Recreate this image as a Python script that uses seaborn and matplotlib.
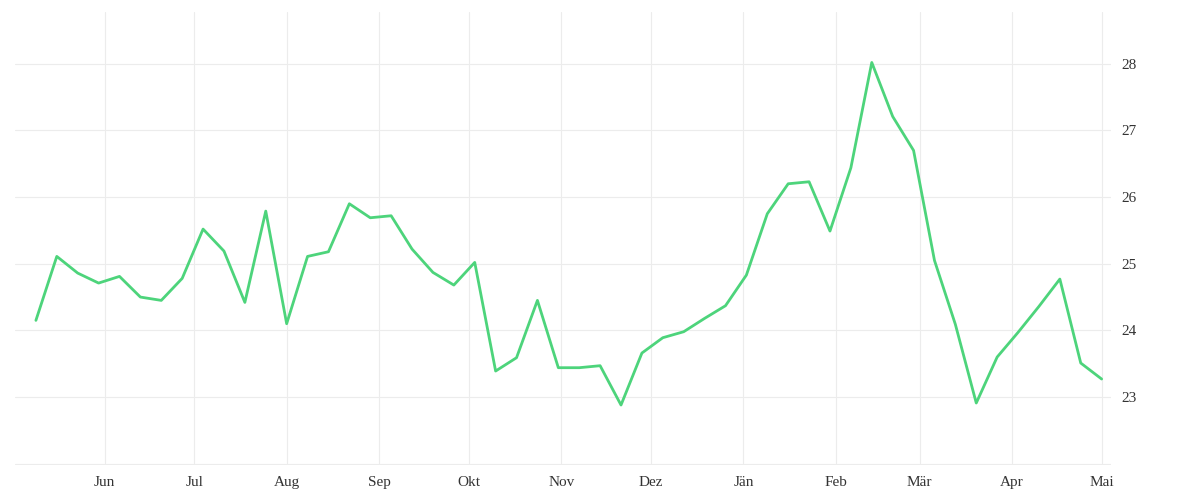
import matplotlib
matplotlib.use("Agg")
import matplotlib.pyplot as plt
import matplotlib.dates as mdates
import seaborn as sns
import pandas as pd

values = [24.15, 25.11, 24.86, 24.71, 24.81, 24.50, 24.45, 24.78, 25.52, 25.19,
          24.42, 25.79, 24.10, 25.11, 25.18, 25.90, 25.69, 25.72, 25.22, 24.87,
          24.68, 25.02, 23.39, 23.59, 24.45, 23.44, 23.44, 23.47, 22.88, 23.66,
          23.89, 23.98, 24.18, 24.37, 24.83, 25.75, 26.20, 26.23, 25.49, 26.44,
          28.02, 27.21, 26.70, 25.05, 24.09, 22.91, 23.60, 23.97, 24.36, 24.77,
          23.51, 23.27]
dates = pd.date_range("2021-05-09", periods=len(values), freq="7D")
month_labels = ["Jun", "Jul", "Aug", "Sep", "Okt", "Nov", "Dez", "Jän", "Feb", "Mär", "Apr", "Mai"]
month_ticks = pd.date_range("2021-06-01", periods=12, freq="MS")
y_ticks = [23, 24, 25, 26, 27, 28]

sns.set_style("white")
plt.rcParams['font.family'] = ['Liberation Serif', 'DejaVu Serif']
fig = plt.figure(figsize=(12, 5), dpi=100)
ax = fig.add_axes([0.0125, 0.07, 0.913, 0.905])
df = pd.DataFrame({"d": dates, "v": values})
sns.lineplot(data=df, x="d", y="v", ax=ax, color="#4dd47b", linewidth=2)
ax.set_xlim(pd.Timestamp("2021-05-02"), pd.Timestamp("2022-05-04"))
ax.set_ylim(21.98, 28.77)
ax.set_xticks(month_ticks)
ax.set_xticklabels(month_labels)
ax.yaxis.tick_right()
ax.set_yticks(y_ticks)
ax.set_yticklabels([str(t) for t in y_ticks])
for t in y_ticks + [22]:
    ax.axhline(t, color="#ececec", lw=0.8, zorder=0)
for t in month_ticks:
    ax.axvline(t, color="#ececec", lw=0.8, zorder=0)
ax.tick_params(length=0, labelsize=11, colors="#333333", pad=8)
for s in ax.spines.values():
    s.set_visible(False)
ax.set_xlabel("")
ax.set_ylabel("")
fig.savefig("out.png")
